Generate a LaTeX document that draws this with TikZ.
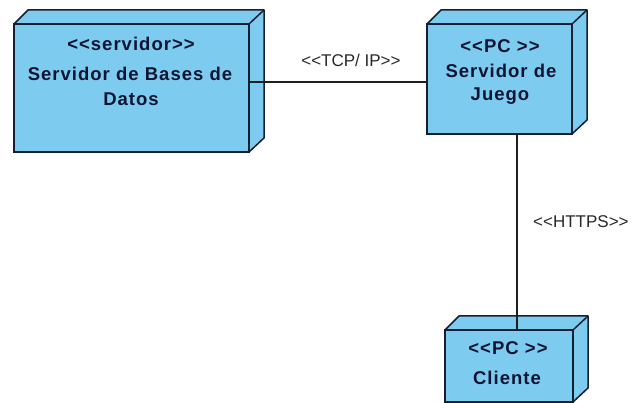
\documentclass[tikz,border=0pt]{standalone}
\usepackage{fontspec}
\setmainfont{Liberation Sans}
\newfontfamily\nodefont[LetterSpace=5.5]{Liberation Sans}
\usetikzlibrary{calc}
\definecolor{nodefill}{RGB}{125,204,240}
\definecolor{nodeline}{RGB}{22,30,52}
\definecolor{nodetext}{RGB}{14,20,50}
\definecolor{linkline}{RGB}{30,30,30}
\definecolor{linktext}{RGB}{40,40,40}
\tikzset{
  x=1pt, y=-1pt,
  devnode/.style={draw=nodeline, fill=nodefill, line width=1.5pt, rectangle,
    inner sep=0pt, outer sep=0pt, anchor=north west},
  face/.style={draw=nodeline, fill=nodefill, line width=1.5pt, line join=round},
  devtext/.style={anchor=base, inner sep=0pt, text=nodetext,
    font=\nodefont\bfseries\fontsize{18.5}{22}\selectfont},
  link/.style={draw=linkline, line width=1.3pt},
  linklabel/.style={inner sep=0pt, text=linktext, font=\fontsize{17}{20}\selectfont}
}
\begin{document}
\begin{tikzpicture}
\useasboundingbox (0,0) rectangle (633,403);

% deployment nodes (front faces)
\node[devnode, minimum width=235pt, minimum height=128pt] (db) at (14,24) {};
\node[devnode, minimum width=145pt, minimum height=110pt] (game) at (427,24) {};
\node[devnode, minimum width=128pt, minimum height=72pt] (client) at (445,330) {};

% top and side faces of each 3D box
\foreach \n in {db,game,client}{
  \path[face] (\n.north west) -- ++(14,-14) -- ($(\n.north east)+(15,-14)$)
    -- ($(\n.south east)+(15,-14)$) -- (\n.south east) -- (\n.north east) -- cycle;
  \draw[face, fill=none] (\n.north east) -- ++(15,-14);
  \draw[face, fill=none] (\n.north west) rectangle (\n.south east);
}

% labels inside the nodes
\node[devtext] (dbst) at (131,51) {<{}<servidor>{}>};
\node[devtext] (dbn1) at (130,81) {Servidor de Bases de};
\node[devtext] (dbn2) at (131,106) {Datos};

\node[devtext] (gamest) at (500,53) {<{}<PC >{}>};
\node[devtext] (gamen1) at (501,78) {Servidor de};
\node[devtext] (gamen2) at (500,101) {Juego};

\node[devtext] (clientst) at (508,355) {<{}<PC >{}>};
\node[devtext] (clientn) at (507,385) {Cliente};

% communication paths
\coordinate (tcp) at (338,82);
\coordinate (https) at (517,230);
\draw[link] (db.east |- tcp) -- (game.west |- tcp);
\draw[link] (game.south -| https) -- (client.north -| https);

\node[linklabel, anchor=base] (tcplbl) at (351,67) {<{}<TCP/ IP>{}>};
\node[linklabel, anchor=base west] (httpslbl) at (533,228) {<{}<HTTPS>{}>};
\end{tikzpicture}
\end{document}
